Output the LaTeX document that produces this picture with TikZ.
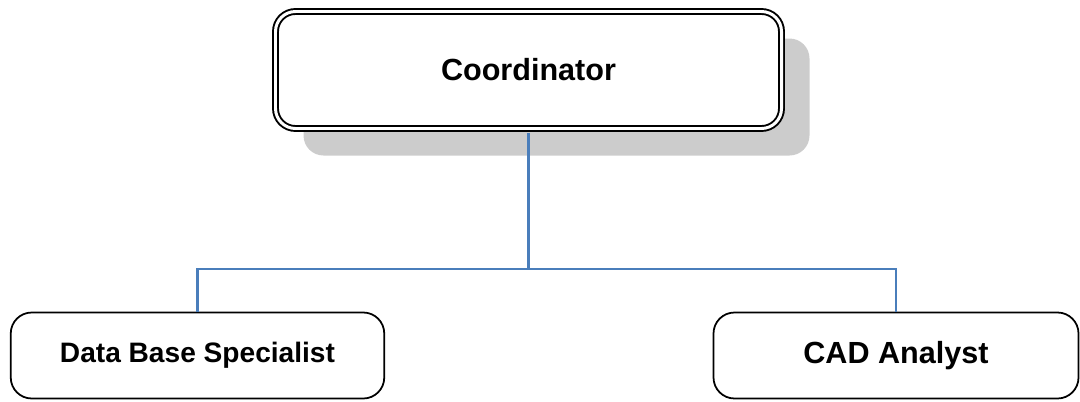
\documentclass[tikz,border=0pt]{standalone}
\usepackage{fontspec}
\setmainfont{Liberation Sans}
\usetikzlibrary{positioning}
\usetikzlibrary{shadows}
\definecolor{linkblue}{HTML}{4A7EBB}
\definecolor{shadowgray}{HTML}{CCCCCC}

\begin{document}
\begin{tikzpicture}[headbox/.style={draw,fill=white,line width=1.1pt,double,double distance=1.7pt
                   ,rounded corners=0.4cm,minimum width=10.12cm,minimum height=2.34cm
                   ,font=\bfseries\fontsize{17.4}{20}\selectfont
                   ,drop shadow={shadow xshift=0.56cm,shadow yshift=-0.54cm,fill=shadowgray,opacity=1}},
                   staffbox/.style={draw,fill=white,line width=1pt,rounded corners=0.42cm,minimum height=1.72cm},
                   link/.style={draw=linkblue,line width=1.3pt}
                  ]
\useasboundingbox (0,0) rectangle (21.6,-8.02);
\node[headbox] (coord) at (10.57,-1.40) {Coordinator};
\node[staffbox,minimum width=7.47cm,font=\bfseries\fontsize{16}{19}\selectfont] (dbs) at (3.95,-7.11) {Data Base Specialist};
\node[staffbox,minimum width=7.30cm,font=\bfseries\fontsize{17.4}{20}\selectfont] (cad) at (17.92,-7.11) {CAD Analyst};
\coordinate[below=2.79cm of coord.south] (fork);
\draw[link] ([yshift=-2pt]coord.south) -- (fork) -| (dbs.north);
\draw[link] (fork) -| (cad.north);
\end{tikzpicture}
\end{document}
